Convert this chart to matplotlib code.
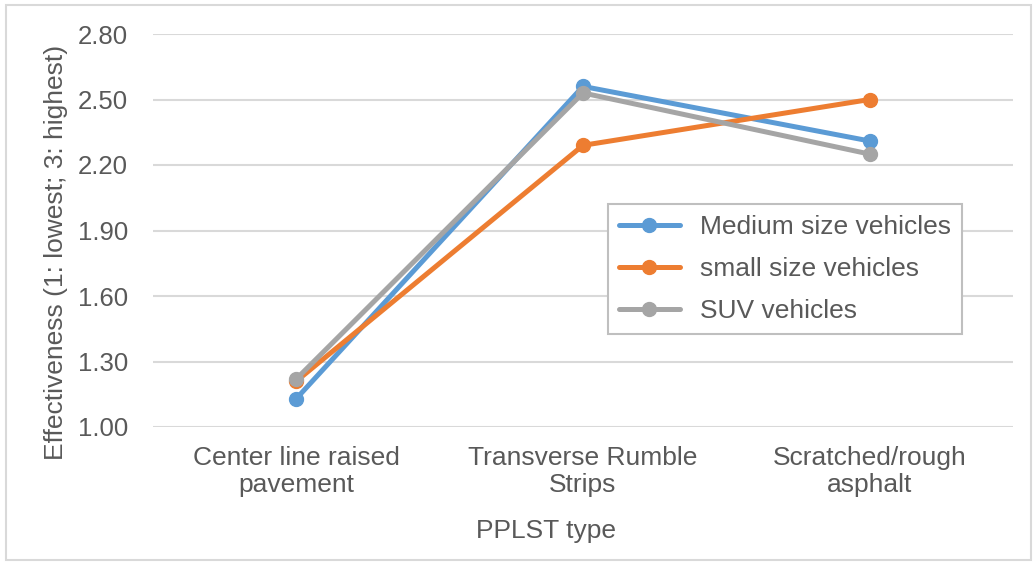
import matplotlib
matplotlib.use("Agg")
import matplotlib.pyplot as plt
from matplotlib.patches import Rectangle

categories = ["Center line raised\npavement", "Transverse Rumble\nStrips", "Scratched/rough\nasphalt"]
medium_size = [1.13, 2.56, 2.31]
small_size = [1.21, 2.29, 2.50]
suv = [1.22, 2.53, 2.25]
y_ticks = [1.00, 1.30, 1.60, 1.90, 2.20, 2.50, 2.80]

plt.rcParams["font.family"] = ["Liberation Sans", "DejaVu Sans"]
text_color = "#595959"
fs = 19

W, H = 1034, 562
fig = plt.figure(figsize=(W / 100, H / 100), dpi=100)

# chart-area border
fig.patches.append(Rectangle((6 / W, 1 - 560 / H), (1031 - 6) / W, (560 - 5) / H,
                             transform=fig.transFigure, fill=False,
                             edgecolor="#D9D9D9", linewidth=1.5))

ax = fig.add_axes([153 / W, 1 - 427 / H, (1013 - 153) / W, (427 - 34) / H])
x = list(range(len(categories)))

series = [
    ("Medium size vehicles", medium_size, "#5B9BD5"),
    ("small size vehicles", small_size, "#ED7D31"),
    ("SUV vehicles", suv, "#A5A5A5"),
]
for name, vals, col in series:
    ax.plot(x, vals, color=col, linewidth=3.6, marker="o", markersize=10,
            label=name, solid_capstyle="round", zorder=3)

ax.set_xlim(-0.5, 2.5)
ax.set_ylim(1.0, 2.8)
ax.set_yticks(y_ticks)
ax.set_yticklabels([f"{v:.2f}" for v in y_ticks])
ax.set_xticks(x)
ax.set_xticklabels(categories, linespacing=1.15)
ax.tick_params(axis="y", length=0, pad=18, labelsize=18.5, labelcolor=text_color)
ax.tick_params(axis="x", length=0, pad=14, labelsize=fs, labelcolor=text_color)
ax.grid(axis="y", color="#D9D9D9", linewidth=1.5)
ax.set_axisbelow(True)
for s in ax.spines.values():
    s.set_visible(False)

fig.text(56 / W, 1 - 252 / H, "Effectiveness (1: lowest; 3: highest)", rotation=90,
         ha="center", va="center", fontsize=fs, color=text_color)
fig.text(546 / W, 1 - 531 / H, "PPLST type", ha="center", va="center",
         fontsize=fs, color=text_color)

leg = ax.legend(loc="upper left", bbox_to_anchor=(608 / W, 1 - 204 / H),
                bbox_transform=fig.transFigure, borderaxespad=0,
                fontsize=fs, frameon=True, fancybox=False, framealpha=1,
                edgecolor="#BFBFBF", handlelength=2.3, handletextpad=0.75,
                labelspacing=0.68, borderpad=0.42)
leg.get_frame().set_linewidth(1.5)
for t in leg.get_texts():
    t.set_color(text_color)

fig.savefig("out.png", dpi=100)
